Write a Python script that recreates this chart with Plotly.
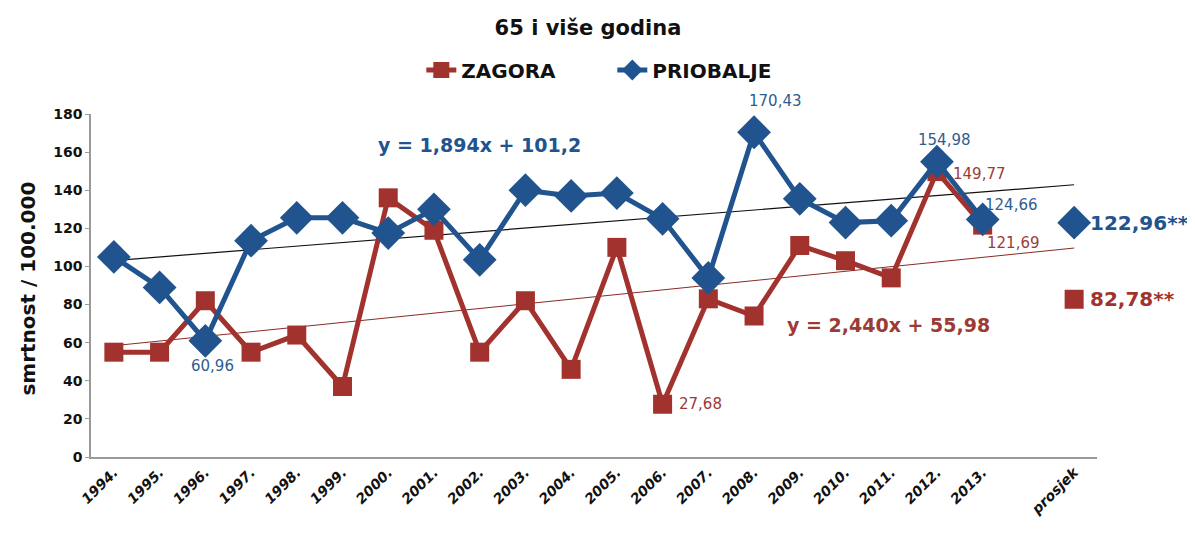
import plotly.graph_objects as go

years = ["1994.", "1995.", "1996.", "1997.", "1998.", "1999.", "2000.", "2001.", "2002.", "2003.",
         "2004.", "2005.", "2006.", "2007.", "2008.", "2009.", "2010.", "2011.", "2012.", "2013."]
zagora = [55, 55, 82, 55, 64, 37, 136, 119, 55, 82, 46, 110, 27.68, 83, 74, 111, 103, 94, 149.77, 121.69]
priobalje = [105, 89, 60.96, 113.5, 125.5, 125.5, 117.5, 130, 103.5, 140, 137, 138.5, 125, 94, 170.43, 135.5, 123, 124, 154.98, 124.66]
avg_label = "prosjek"
zagora_avg = 82.78
priobalje_avg = 122.96
# trend equations shown on chart
prio_slope, prio_int = 1.894, 101.2
zag_slope, zag_int = 2.440, 55.98

BLUE = "#21548F"
RED = "#A2322D"
BLUE_T = "#2F5E8E"
RED_T = "#9C3B36"
FONT = "DejaVu Sans"

xs = list(range(1, len(years) + 1))
x_avg = len(years) + 2
tickvals = xs + [x_avg]
ticktext = years + [avg_label]

W, H = 1195, 536
OFF = 8  # page body margin

fig = go.Figure()

# trend lines (from 1994 to prosjek position)
tx = [1, x_avg]
fig.add_trace(go.Scatter(x=tx, y=[prio_slope * t + prio_int for t in tx], mode="lines",
                         line=dict(color="#111111", width=1.2), showlegend=False, hoverinfo="skip"))
fig.add_trace(go.Scatter(x=tx, y=[zag_slope * t + zag_int for t in tx], mode="lines",
                         line=dict(color="#8B2A26", width=1), showlegend=False, hoverinfo="skip"))

fig.add_trace(go.Scatter(x=xs, y=zagora, name="<b>ZAGORA</b>", mode="lines+markers",
                         line=dict(color=RED, width=5),
                         marker=dict(symbol="square", size=19, color=RED)))
fig.add_trace(go.Scatter(x=xs, y=priobalje, name="<b>PRIOBALJE</b>", mode="lines+markers",
                         line=dict(color=BLUE, width=5),
                         marker=dict(symbol="diamond", size=26, color=BLUE)))

fig.add_trace(go.Scatter(x=[x_avg], y=[priobalje_avg], mode="markers", showlegend=False,
                         marker=dict(symbol="diamond", size=26, color=BLUE)))
fig.add_trace(go.Scatter(x=[x_avg], y=[zagora_avg], mode="markers", showlegend=False,
                         marker=dict(symbol="square", size=19, color=RED)))

def lab(x, y, text, color, xs_=0, ys_=0, size=15, bold=False, xanchor="center"):
    t = f"<b>{text}</b>" if bold else text
    fig.add_annotation(x=x, y=y, text=t, showarrow=False, xshift=xs_, yshift=ys_,
                       xanchor=xanchor, font=dict(color=color, size=size, family=FONT))

lab(3, priobalje[2], "60,96", BLUE_T, 7, -25)
lab(15, priobalje[14], "170,43", BLUE_T, 21, 31)
lab(19, priobalje[18], "154,98", BLUE_T, 8, 22)
lab(19, zagora[18], "149,77", RED_T, 14, -2, xanchor="left")
lab(20, priobalje[19], "124,66", BLUE_T, 0, 14, xanchor="left")
lab(20, zagora[19], "121,69", RED_T, 2, -18, xanchor="left")
lab(13, zagora[12], "27,68", RED_T, 14, 0, xanchor="left")
lab(x_avg, priobalje_avg, f"{priobalje_avg:.2f}".replace(".", ",") + "**", BLUE, 14, 0, size=20, bold=True, xanchor="left")
lab(x_avg, zagora_avg, f"{zagora_avg:.2f}".replace(".", ",") + "**", RED, 14, 0, size=20, bold=True, xanchor="left")

fig.add_annotation(x=9.0, y=163.7, showarrow=False,
                   text=f"<b>y = {prio_slope:.3f}x + {prio_int}</b>".replace(".", ","),
                   font=dict(color=BLUE, size=19, family=FONT))
fig.add_annotation(x=17.93, y=69.2, showarrow=False,
                   text=f"<b>y = {zag_slope:.3f}x + {zag_int}</b>".replace(".", ","),
                   font=dict(color=RED_T, size=19, family=FONT))

# y-axis title
fig.add_annotation(x=(20 - (91 - OFF)) / 1006, y=0.491, xref="paper", yref="paper", showarrow=False,
                   textangle=-90, xanchor="center", yanchor="middle",
                   text="<b>smrtnost / 100.000</b>", font=dict(size=20, color="#111111", family=FONT))

fig.update_layout(
    width=W, height=H,
    margin=dict(l=91 - OFF, r=W - (1097 - OFF), t=114 - OFF, b=H - (457 - OFF)),
    paper_bgcolor="white", plot_bgcolor="white",
    font=dict(family=FONT, color="#222222"),
    title=dict(text="<b>65 i više godina</b>", x=580 / W, xref="container", xanchor="center",
               y=1 - 19.5 / H, yref="container", yanchor="middle",
               font=dict(size=21, color="#111111", family=FONT)),
    legend=dict(orientation="h", x=0.5057, xref="container", xanchor="center",
                y=1 - 62 / H, yref="container", yanchor="middle",
                font=dict(size=20, color="#111111", family=FONT), itemwidth=30,
                traceorder="normal", entrywidth=146),
    showlegend=True,
)
fig.update_xaxes(range=[0.5, x_avg + 0.5], tickmode="array", tickvals=tickvals,
                 ticktext=[f"<b><i>{t}</i></b>" for t in ticktext],
                 tickangle=-45, showgrid=False, zeroline=False, showline=True, linecolor="#9a9a9a",
                 linewidth=1.5, ticks="", tickfont=dict(size=14, color="#111111", family=FONT))
fig.update_yaxes(range=[0, 180], dtick=20, showgrid=False, zeroline=False, showline=True,
                 linecolor="#9a9a9a", linewidth=1.5, ticks="outside", ticklen=4, tickcolor="#9a9a9a",
                 tickfont=dict(size=14, color="#111111", family=FONT),
                 tickprefix="<b>", ticksuffix="</b>")

fig.write_html("out.html")
